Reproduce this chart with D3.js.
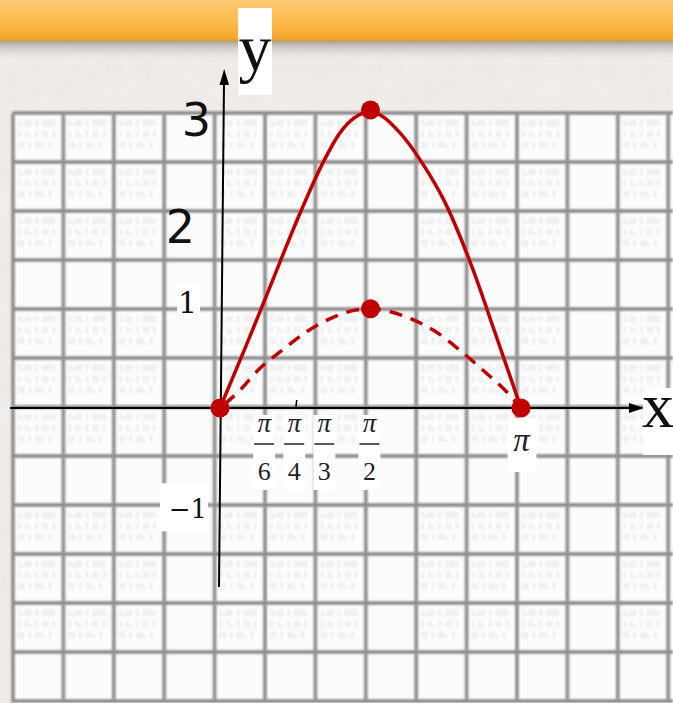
<!DOCTYPE html>
<html>
<head>
<meta charset="utf-8">
<script src="https://cdn.jsdelivr.net/npm/d3@7"></script>
<style>
  html, body { margin: 0; padding: 0; background: #f3eee9; }
  svg { display: block; }
</style>
</head>
<body>
<svg id="chart" width="673" height="703"></svg>
<script>
// Graph of y = 3 sin x (solid) and y = sin x (dashed) on [0, π]
const solidX  = [0, 0.261, 0.522, 0.835, 1.075, 1.252, 1.571, 1.879, 2.108, 2.348, 2.630, 2.870, 3.1416];
const solidY  = [0, 0.60, 1.22, 1.96, 2.47, 2.77, 2.98, 2.77, 2.47, 2.07, 1.42, 0.76, 0];
const dashedX = [0, 0.209, 0.417, 0.647, 0.908, 1.127, 1.388, 1.571, 1.670, 2.014, 2.265, 2.505, 2.745, 2.995, 3.1416];
const dashedY = [0, 0.18, 0.40, 0.58, 0.77, 0.89, 0.98, 1.00, 0.99, 0.89, 0.76, 0.58, 0.38, 0.16, 0];

// Marked points: origin, both maxima, and (π, 0)
const pointX = [0, 1.5708, 1.5708, 3.1416];
const pointY = [0, 3, 1, 0];

// Axis labels
const yTickValues = [3, 2, 1, -1];
const yTickLabels = ["3", "2", "1", "\u22121"];
const xTickValues = [0.5236, 0.7854, 1.0472, 1.5708];
const xTickDenoms = ["6", "4", "3", "2"];
const piValue = 3.1416;

// ---- layout ----
const W = 673, H = 703;
const svg = d3.select("#chart");
const x = d3.scaleLinear().domain([0, Math.PI]).range([220, 521]);
const y = d3.scaleLinear().domain([0, 3]).range([408, 110]);
const red = "#c00000";

const defs = svg.append("defs");

// paper grain
const grain = defs.append("filter").attr("id", "grain").attr("x", 0).attr("y", 0).attr("width", 1).attr("height", 1);
grain.append("feTurbulence").attr("type", "fractalNoise").attr("baseFrequency", 0.75).attr("numOctaves", 2).attr("seed", 3).attr("result", "n");
grain.append("feColorMatrix").attr("in", "n").attr("type", "matrix")
  .attr("values", "0 0 0 0 0.55  0 0 0 0 0.5  0 0 0 0 0.46  0 0 0 0.2 -0.02");

const blotch = defs.append("filter").attr("id", "blotch").attr("x", 0).attr("y", 0).attr("width", 1).attr("height", 1);
blotch.append("feTurbulence").attr("type", "fractalNoise").attr("baseFrequency", 0.05).attr("numOctaves", 2).attr("seed", 8).attr("result", "n");
blotch.append("feColorMatrix").attr("in", "n").attr("type", "matrix")
  .attr("values", "0 0 0 0 1  0 0 0 0 1  0 0 0 0 1  0 0 0 0.5 -0.18");

const soft = defs.append("filter").attr("id", "soft").attr("x", "-5%").attr("y", "-5%").attr("width", "110%").attr("height", "110%");
soft.append("feGaussianBlur").attr("stdDeviation", 0.8);

const ghost = defs.append("filter").attr("id", "ghost");
ghost.append("feGaussianBlur").attr("stdDeviation", 1.0);

const barGrad = defs.append("linearGradient").attr("id", "bar").attr("x1", 0).attr("y1", 0).attr("x2", 0).attr("y2", 1);
[["0%", "#fdcb76"], ["55%", "#fbb948"], ["100%", "#f5a52a"]].forEach(s =>
  barGrad.append("stop").attr("offset", s[0]).attr("stop-color", s[1]));

const shadowGrad = defs.append("linearGradient").attr("id", "shadow").attr("x1", 0).attr("y1", 0).attr("x2", 0).attr("y2", 1);
[["0%", "#8d8782", 0.85], ["35%", "#b8b2ad", 0.55], ["100%", "#f3eee9", 0]].forEach(s =>
  shadowGrad.append("stop").attr("offset", s[0]).attr("stop-color", s[1]).attr("stop-opacity", s[2]));

// background
svg.append("rect").attr("width", W).attr("height", H).attr("fill", "#f3eee9");
svg.append("rect").attr("width", W).attr("height", H).attr("filter", "url(#blotch)");
svg.append("rect").attr("width", W).attr("height", H).attr("filter", "url(#grain)");

// header bar
svg.append("rect").attr("x", 0).attr("y", 40).attr("width", W).attr("height", 22).attr("fill", "url(#shadow)");
svg.append("rect").attr("x", 0).attr("y", 0).attr("width", W).attr("height", 41).attr("fill", "url(#bar)");
svg.append("rect").attr("x", 0).attr("y", 39).attr("width", W).attr("height", 2).attr("fill", "#e99d27");

// grid paper
const gx0 = 13, gy0 = 113, cellW = 50.4, cellH = 49;
const gridXs = d3.range(14).map(i => gx0 + i * cellW);
const gridYs = d3.range(13).map(i => gy0 + i * cellH);
const gridG = svg.append("g");
gridG.append("rect").attr("x", gx0).attr("y", gy0).attr("width", W - gx0).attr("height", H - gy0).attr("fill", "#fcfcfc");

// faint print-through marks in the cells (short strokes, 3x3 blocks of every 4x4)
const ghostG = gridG.append("g").attr("filter", "url(#ghost)").attr("opacity", 0.28).attr("fill", "#8c8c8c");
const ghostRows = ["1:11 1 1121", "1 1: 1 11 1", "11 1 11: 1"];
for (let r = 0; r < 12; r++) {
  if (r % 4 === 3) continue;
  for (let c = 0; c < 13; c++) {
    if (c % 4 === 3) continue;
    const cx = gx0 + c * cellW, cy = gy0 + r * cellH;
    ghostRows.forEach((row, k) => {
      row.split("").forEach((ch, j) => {
        if (ch === " ") return;
        const h = ch === "2" ? 7 : (ch === ":" ? 3 : 6);
        ghostG.append("rect").attr("x", cx + 6 + j * 3.4).attr("y", cy + 7 + k * 11 + (6 - h))
          .attr("width", 1.3).attr("height", h);
      });
    });
  }
}

const lines = gridG.append("g").attr("filter", "url(#soft)");
gridXs.forEach(gx => {
  lines.append("line").attr("x1", gx).attr("x2", gx).attr("y1", gy0).attr("y2", H)
    .attr("stroke", "#a9a9a9").attr("stroke-width", 4);
  lines.append("line").attr("x1", gx).attr("x2", gx).attr("y1", gy0).attr("y2", H)
    .attr("stroke", "#6f6f6f").attr("stroke-width", 1.4);
});
gridYs.forEach(gy => {
  lines.append("line").attr("x1", gx0).attr("x2", W).attr("y1", gy).attr("y2", gy)
    .attr("stroke", "#a9a9a9").attr("stroke-width", 4);
  lines.append("line").attr("x1", gx0).attr("x2", W).attr("y1", gy).attr("y2", gy)
    .attr("stroke", "#6f6f6f").attr("stroke-width", 1.4);
});

// axes
const axisG = svg.append("g");
const y0 = y(0);
axisG.append("line").attr("x1", 10).attr("x2", 632).attr("y1", y0).attr("y2", y0)
  .attr("stroke", "#000").attr("stroke-width", 2);
axisG.append("path").attr("d", `M644,${y0} L629,${y0 - 5} L629,${y0 + 5} Z`).attr("fill", "#000");
axisG.append("line").attr("x1", 219).attr("y1", 587).attr("x2", 224).attr("y2", 82)
  .attr("stroke", "#000").attr("stroke-width", 2);
axisG.append("path").attr("d", "M224.2,69 L219.5,85 L229,85 Z").attr("fill", "#000");
// tick at π/4
axisG.append("line").attr("x1", x(xTickValues[1]) + 0.5).attr("x2", x(xTickValues[1]) + 1.5)
  .attr("y1", y0).attr("y2", y0 - 8).attr("stroke", "#000").attr("stroke-width", 1.5);

// axis names
function boxedText(g, bx, by, bw, bh, tx, ty, txt, size, family, anchor, style) {
  g.append("rect").attr("x", bx).attr("y", by).attr("width", bw).attr("height", bh).attr("fill", "#ffffff");
  g.append("text").attr("x", tx).attr("y", ty).attr("font-family", family).attr("font-size", size)
    .attr("text-anchor", anchor || "middle").attr("font-style", style || "normal")
    .attr("fill", "#111").text(txt);
}
const labelG = svg.append("g");
boxedText(labelG, 238, 8, 34, 87, 255, 70, "y", 66, "Liberation Serif");
boxedText(labelG, 643, 388, 30, 67, 658, 427, "x", 64, "Liberation Serif");

// y tick labels
const yLabelLayout = [
  { dx: -9, dy: 26, font: "DejaVu Sans", size: 46, box: false },
  { dx: -25, dy: 34, font: "DejaVu Sans", size: 46, box: false },
  { dx: -23, dy: 4, font: "DejaVu Serif", size: 30, box: [-43, -24, 23, 33] },
  { dx: -13, dy: 11, font: "DejaVu Serif", size: 26, box: [-60, -24, 48, 48] }
];
yTickValues.forEach((v, i) => {
  const L = yLabelLayout[i];
  const ax = x(0), ay = y(v);
  if (L.box) {
    labelG.append("rect").attr("x", ax + L.box[0]).attr("y", ay + L.box[1])
      .attr("width", L.box[2]).attr("height", L.box[3]).attr("fill", "#fff");
  }
  labelG.append("text").attr("x", ax + L.dx).attr("y", ay + L.dy)
    .attr("text-anchor", "end").attr("font-family", L.font).attr("font-size", L.size)
    .attr("fill", "#111").text(yTickLabels[i]);
});

// x tick labels as fractions π/n
const fracShift = [-6, -1, 4, -1];
xTickValues.forEach((v, i) => {
  const cx = x(v) + fracShift[i];
  const g = labelG.append("g");
  g.append("rect").attr("x", cx - 11).attr("y", 415).attr("width", 22).attr("height", 75).attr("fill", "#fff");
  g.append("text").attr("x", cx).attr("y", 432).attr("text-anchor", "middle")
    .attr("font-family", "Liberation Serif").attr("font-style", "italic").attr("font-size", 27)
    .attr("fill", "#222").text("\u03c0");
  g.append("line").attr("x1", cx - 10).attr("x2", cx + 10).attr("y1", 444).attr("y2", 444)
    .attr("stroke", "#222").attr("stroke-width", 1.5);
  g.append("text").attr("x", cx).attr("y", 480).attr("text-anchor", "middle")
    .attr("font-family", "Liberation Serif").attr("font-size", 26)
    .attr("fill", "#222").text(xTickDenoms[i]);
});
{
  const cx = x(piValue) + 0.5;
  labelG.append("rect").attr("x", cx - 14).attr("y", 418).attr("width", 29).attr("height", 54).attr("fill", "#fff");
  labelG.append("text").attr("x", cx).attr("y", 451).attr("text-anchor", "middle")
    .attr("font-family", "Liberation Serif").attr("font-style", "italic").attr("font-size", 33)
    .attr("fill", "#222").text("\u03c0");
}

// curves
const line = d3.line().x(d => x(d[0])).y(d => y(d[1])).curve(d3.curveMonotoneX);
svg.append("path").datum(dashedX.map((v, i) => [v, dashedY[i]]))
  .attr("d", line).attr("fill", "none").attr("stroke", red).attr("stroke-width", 3.5)
  .attr("stroke-dasharray", "13,9").attr("stroke-dashoffset", -6);
svg.append("path").datum(solidX.map((v, i) => [v, solidY[i]]))
  .attr("d", line).attr("fill", "none").attr("stroke", red).attr("stroke-width", 3.5);

// marked points
svg.append("g").selectAll("circle").data(pointX.map((v, i) => [v, pointY[i]])).join("circle")
  .attr("cx", d => x(d[0])).attr("cy", d => y(d[1])).attr("r", 9.5).attr("fill", red);
</script>
</body>
</html>
